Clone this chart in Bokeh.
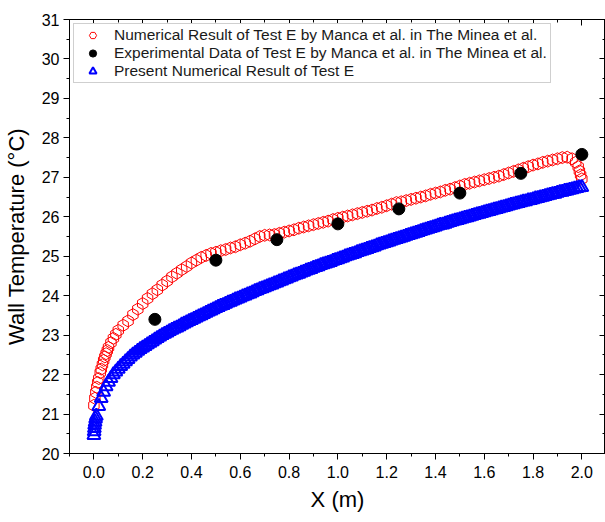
import math
from bokeh.plotting import figure
from bokeh.models import (LinearAxis, SingleIntervalTicker, PrintfTickFormatter, Range1d,
                          CustomJSTickFormatter)
from bokeh.embed import file_html
from bokeh.resources import INLINE

# ---------------- data ----------------
# Numerical result of Test E by Manca et al. (red open hexagons)
red_x = ([0.0, 0.004, 0.008, 0.012, 0.016, 0.02, 0.026, 0.03, 0.035, 0.04, 0.045,
          0.05, 0.055, 0.06, 0.07, 0.08, 0.09, 0.10]
         + [round(0.12 + 0.02 * i, 2) for i in range(92)]
         + [1.96, 1.975, 1.985, 1.99, 1.995, 2.0])
red_T = [21.22, 21.40, 21.55, 21.68, 21.80, 21.90, 22.05, 22.14, 22.25, 22.36, 22.45,
         22.53, 22.61, 22.69, 22.81, 22.92, 23.02, 23.12,
         23.25, 23.36, 23.52, 23.66, 23.80, 23.93, 24.05, 24.15, 24.27, 24.37,
         24.48, 24.57, 24.66, 24.74, 24.83, 24.90, 24.97, 25.02, 25.07, 25.10,
         25.14, 25.17, 25.21, 25.24, 25.29, 25.33, 25.38, 25.44, 25.50, 25.53,
         25.54, 25.55, 25.58, 25.61, 25.64, 25.67, 25.71, 25.74, 25.77, 25.80,
         25.83, 25.86, 25.89, 25.93, 25.96, 25.99, 26.02, 26.05, 26.08, 26.11,
         26.14, 26.17, 26.21, 26.24, 26.28, 26.32, 26.36, 26.38, 26.41, 26.44,
         26.47, 26.50, 26.53, 26.57, 26.60, 26.63, 26.67, 26.70, 26.74, 26.78,
         26.82, 26.85, 26.88, 26.91, 26.94, 26.97, 27.00, 27.03, 27.07, 27.11,
         27.15, 27.19, 27.23, 27.27, 27.31, 27.34, 27.38, 27.41, 27.44, 27.47,
         27.50, 27.51,
         27.47, 27.38, 27.27, 27.16, 27.06, 26.96]

# Experimental data of Test E (black dots)
exp_x = [0.25, 0.5, 0.75, 1.0, 1.25, 1.5, 1.75, 2.0]
exp_T = [23.40, 24.90, 25.42, 25.82, 26.20, 26.60, 27.10, 27.58]

# Present numerical result of Test E (blue open triangles)
blue_x = [0.0, 0.001, 0.002, 0.003, 0.005, 0.007] + [round(0.01 * i, 2) for i in range(1, 201)]
blue_T = [20.46, 20.56, 20.64, 20.72, 20.80, 20.88,
          20.95, 21.20, 21.40, 21.56, 21.70, 21.81, 21.91, 22.00, 22.07, 22.14,
          22.21, 22.27, 22.33, 22.39, 22.45, 22.50, 22.55, 22.60, 22.64, 22.68,
          22.72, 22.76, 22.80, 22.84, 22.88, 22.92, 22.96, 23.00, 23.03, 23.06,
          23.10, 23.13, 23.16, 23.19, 23.22, 23.26, 23.29, 23.32, 23.35, 23.38,
          23.41, 23.44, 23.47, 23.50, 23.53, 23.56, 23.59, 23.62, 23.65, 23.68,
          23.71, 23.74, 23.76, 23.79, 23.82, 23.84, 23.87, 23.90, 23.92, 23.95,
          23.98, 24.00, 24.03, 24.05, 24.08, 24.11, 24.13, 24.16, 24.18, 24.21,
          24.23, 24.26, 24.28, 24.31, 24.33, 24.36, 24.38, 24.41, 24.43, 24.46,
          24.48, 24.51, 24.53, 24.55, 24.58, 24.60, 24.63, 24.65, 24.67, 24.70,
          24.72, 24.74, 24.77, 24.79, 24.81, 24.83, 24.85, 24.88, 24.90, 24.92,
          24.94, 24.96, 24.99, 25.01, 25.03, 25.05, 25.07, 25.10, 25.12, 25.14,
          25.16, 25.18, 25.20, 25.22, 25.24, 25.27, 25.29, 25.31, 25.33, 25.35,
          25.37, 25.39, 25.41, 25.43, 25.45, 25.47, 25.49, 25.51, 25.53, 25.55,
          25.57, 25.59, 25.61, 25.63, 25.65, 25.67, 25.69, 25.71, 25.73, 25.75,
          25.77, 25.79, 25.80, 25.82, 25.84, 25.86, 25.88, 25.90, 25.91, 25.93,
          25.95, 25.97, 25.98, 26.00, 26.02, 26.04, 26.06, 26.07, 26.09, 26.11,
          26.13, 26.14, 26.16, 26.18, 26.19, 26.21, 26.23, 26.24, 26.26, 26.28,
          26.30, 26.31, 26.33, 26.34, 26.36, 26.38, 26.39, 26.41, 26.42, 26.44,
          26.46, 26.47, 26.49, 26.50, 26.52, 26.54, 26.55, 26.57, 26.58, 26.60,
          26.62, 26.63, 26.65, 26.66, 26.68, 26.69, 26.71, 26.72, 26.74, 26.75]

assert len(red_x) == len(red_T)
assert len(blue_x) == len(blue_T)

labels = ["Numerical Result of Test E by Manca et al. in The Minea et al.",
          "Experimental Data of Test E by Manca et al. in The Minea et al.",
          "Present Numerical Result of Test E"]

FONT = "Liberation Sans"

# ---------------- figure ----------------
p = figure(width=605, height=522, output_backend="svg", toolbar_location=None,
           x_range=Range1d(-0.1, 2.097), y_range=Range1d(20, 31),
           min_border_left=69, min_border_right=0, min_border_top=19, min_border_bottom=69)
p.grid.visible = False
p.outline_line_color = "black"
p.outline_line_width = 1
p.background_fill_color = "white"
p.border_fill_color = "white"

p.scatter(red_x, red_T, marker="hex", size=12, angle=math.pi / 2,
          fill_color=None, line_color="#ff0000", line_width=1, legend_label=labels[0])
p.scatter(exp_x, exp_T, marker="circle", size=12,
          fill_color="black", line_color="black", legend_label=labels[1])
p.scatter(blue_x, blue_T, marker="triangle", size=13,
          fill_color=None, line_color="#0000ff", line_width=2, legend_label=labels[2])

xt = SingleIntervalTicker(interval=0.2, num_minor_ticks=2)
yt = SingleIntervalTicker(interval=1, num_minor_ticks=2)

xa = p.xaxis[0]
xa.ticker = xt
xa.formatter = PrintfTickFormatter(format="%.1f")
ya = p.yaxis[0]
ya.ticker = yt
ya.formatter = PrintfTickFormatter(format="%d")
for ax in (xa, ya):
    ax.major_tick_out = 6
    ax.major_tick_in = 0
    ax.minor_tick_out = 3
    ax.minor_tick_in = 0
    ax.axis_line_color = "black"
    ax.major_tick_line_color = "black"
    ax.minor_tick_line_color = "black"
    ax.major_label_text_font = FONT
    ax.major_label_text_font_size = "16px"
    ax.major_label_text_color = "black"
    ax.axis_label_text_font = FONT
    ax.axis_label_text_font_size = "22px"
    ax.axis_label_text_font_style = "normal"
    ax.axis_label_text_color = "black"
xa.axis_label = "X (m)"
ya.axis_label = "Wall Temperature (\u00b0C)"
xa.major_label_standoff = 6
xa.axis_label_standoff = 6
ya.major_label_standoff = 4
ya.axis_label_standoff = 10

blank = CustomJSTickFormatter(code="return ''")
for loc, tk in (("above", xt), ("right", yt)):
    ax = LinearAxis(ticker=tk, formatter=blank, major_tick_in=6, major_tick_out=0,
                    minor_tick_in=3, minor_tick_out=0, major_label_standoff=0,
                    axis_line_color="black")
    p.add_layout(ax, loc)

lg = p.legend[0]
lg.location = "top_left"
lg.margin = 4
lg.padding = 2
lg.spacing = 0
lg.glyph_width = 33
lg.glyph_height = 18
lg.label_height = 18
lg.label_standoff = 5
lg.label_width = 434
lg.label_text_font = FONT
lg.label_text_font_size = "15.5px"
lg.label_text_color = "#1a1a1a"
lg.border_line_color = "#a0a0a0"
lg.border_line_width = 1
lg.background_fill_color = "white"
lg.background_fill_alpha = 1

open("out.html", "w").write(file_html(p, INLINE))
